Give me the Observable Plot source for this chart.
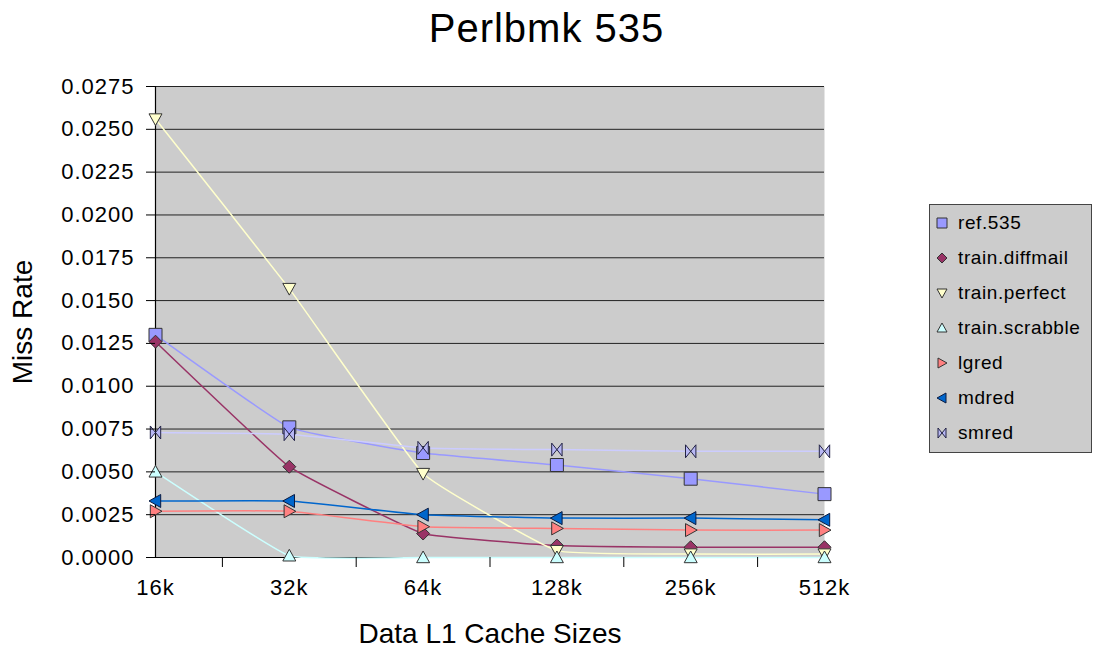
<!DOCTYPE html>
<html><head><meta charset="utf-8">
<script src="https://cdn.jsdelivr.net/npm/d3@7"></script>
<script src="https://cdn.jsdelivr.net/npm/@observablehq/plot@0.6"></script>
<style>
body{margin:0;background:#fff;font-family:"Liberation Sans",Arial,Helvetica,sans-serif;}
#wrap{position:relative;width:1093px;height:651px;overflow:hidden}
#title{height:60px;box-sizing:border-box;padding-top:6px;text-align:center;font-size:40px;letter-spacing:1px;line-height:normal;color:#000}
#legend{position:absolute;left:929px;top:204px;width:161px;height:247px;background:#cccccc;border:1px solid #444;}
.item{position:absolute;left:0;height:24px;display:flex;align-items:center;font-size:19px;letter-spacing:0.6px;color:#000;white-space:nowrap}
.item svg{margin-left:5px;margin-right:9px}
svg g[aria-label$="tick label"] text{letter-spacing:1px}
</style></head>
<body><div id="wrap"><div id="title">Perlbmk 535</div><div id="chart"></div><div id="legend"></div></div>
<script>
// ---- data ----
const categories = ["16k", "32k", "64k", "128k", "256k", "512k"];
const seriesNames = ["ref.535", "train.diffmail", "train.perfect", "train.scrabble", "lgred", "mdred", "smred"];
const ref535        = [0.0130, 0.0076, 0.0061, 0.0054, 0.0046, 0.0037];
const trainDiffmail = [0.0126, 0.0053, 0.0014, 0.0007, 0.0006, 0.0006];
const trainPerfect  = [0.0256, 0.0157, 0.0049, 0.0004, 0.0002, 0.0002];
const trainScrabble = [0.0050, 0.0001, 0.0000, 0.0000, 0.0000, 0.0000];
const lgred         = [0.0027, 0.0027, 0.0018, 0.0017, 0.0016, 0.0016];
const mdred         = [0.0033, 0.0033, 0.0025, 0.0023, 0.0023, 0.0022];
const smred         = [0.0073, 0.0072, 0.0064, 0.0063, 0.0062, 0.0062];
const yTicks = [0, 0.0025, 0.0050, 0.0075, 0.0100, 0.0125, 0.0150, 0.0175, 0.0200, 0.0225, 0.0250, 0.0275];
const yLabel = "Miss Rate";
const xLabel = "Data L1 Cache Sizes";

// ---- styles ----
function sym(fn){ return {draw(c, size){ const h = Math.sqrt(size / Math.PI); fn(c, h); }}; }
const SQUARE = sym((c,h)=>{ c.rect(-h,-h,2*h,2*h); });
const DIAMOND = sym((c,h)=>{ c.moveTo(0,-h); c.lineTo(h,0); c.lineTo(0,h); c.lineTo(-h,0); c.closePath(); });
const TRI_DOWN = sym((c,h)=>{ c.moveTo(-h,-h*0.8); c.lineTo(h,-h*0.8); c.lineTo(0,h); c.closePath(); });
const TRI_UP = sym((c,h)=>{ c.moveTo(-h,h*0.8); c.lineTo(h,h*0.8); c.lineTo(0,-h); c.closePath(); });
const TRI_RIGHT = sym((c,h)=>{ c.moveTo(-h*0.8,-h); c.lineTo(-h*0.8,h); c.lineTo(h,0); c.closePath(); });
const TRI_LEFT = sym((c,h)=>{ c.moveTo(h*0.8,-h); c.lineTo(h*0.8,h); c.lineTo(-h,0); c.closePath(); });
const BOWTIE = sym((c,h)=>{ c.moveTo(-h*0.8,-h); c.lineTo(h*0.8,h); c.lineTo(h*0.8,-h); c.lineTo(-h*0.8,h); c.closePath(); });

const seriesValues = [ref535, trainDiffmail, trainPerfect, trainScrabble, lgred, mdred, smred];
const lineColors = ["#9999ff", "#993366", "#ffffcc", "#ccffff", "#ff8080", "#0066cc", "#ccccff"];
const fillColors = ["#9999ff", "#993366", "#ffffcc", "#ccffff", "#ff8080", "#0066cc", "#b8b8f4"];
const strokeColors = ["#333", "#333", "#333", "#333", "#333", "#0a1a40", "#222244"];
const symbols = [SQUARE, DIAMOND, TRI_DOWN, TRI_UP, TRI_RIGHT, TRI_LEFT, BOWTIE];

const rows = seriesNames.map((name, s) => seriesValues[s].map((v, i) => ({series: name, x: i, y: v})));
const xBetween = categories.slice(1).map((_, i) => i + 0.5);
const smooth = d3.curveCardinal.tension(0.7);

const marks = [
  Plot.frame({fill: "#cccccc", stroke: "none"}),
  Plot.gridY(yTicks.filter(d => d > 0), {stroke: "#222", strokeOpacity: 1, strokeWidth: 1}),
  Plot.ruleY([0], {stroke: "#000", strokeWidth: 1.2}),
  Plot.ruleX([0], {stroke: "#000", strokeWidth: 1.2})
];
rows.forEach((r, s) => marks.push(Plot.line(r, {x: "x", y: "y", stroke: lineColors[s], strokeWidth: 1.5, curve: smooth})));
rows.forEach((r, s) => marks.push(Plot.dot(r, {x: "x", y: "y", symbol: symbols[s], r: 6.5, fill: fillColors[s], stroke: strokeColors[s], strokeWidth: 1})));
marks.push(
  Plot.axisY({ticks: yTicks, tickFormat: d3.format(".4f"), tickSize: 9, tickPadding: 12, fontSize: 22, label: null, stroke: "#000"}),
  Plot.axisX({ticks: xBetween, tickFormat: () => "", tickSize: 10, label: null}),
  Plot.axisX({ticks: categories.map((_, i) => i), tickFormat: i => categories[i], tickSize: 0, tickPadding: 22, fontSize: 22, label: null}),
  Plot.text([yLabel], {text: d => d, frameAnchor: "left", textAnchor: "middle", dx: -132, rotate: -90, fontSize: 28}),
  Plot.text([xLabel], {text: d => d, frameAnchor: "bottom", textAnchor: "middle", dy: 85, fontSize: 28})
);

const chart = Plot.plot({
  width: 1093, height: 591,
  marginTop: 26, marginBottom: 94, marginLeft: 155, marginRight: 269,
  x: {type: "linear", domain: [0, categories.length - 1]},
  y: {domain: [0, 0.0275]},
  style: {fontFamily: "'Liberation Sans', Arial, Helvetica, sans-serif", color: "#000", background: "#fff", overflow: "visible"},
  marks
});
document.getElementById("chart").appendChild(chart);

// ---- legend ----
const legend = document.getElementById("legend");
seriesNames.forEach((name, s) => {
  const it = document.createElement("div");
  it.className = "item";
  it.style.top = (6 + s * 35) + "px";
  const p = d3.symbol(symbols[s], Math.PI * 5 * 5)();
  it.innerHTML = `<svg width="14" height="14" viewBox="-7 -7 14 14"><path d="${p}" fill="${fillColors[s]}" stroke="${strokeColors[s]}" stroke-width="1"/></svg><span>${name}</span>`;
  legend.appendChild(it);
});
</script></body></html>
